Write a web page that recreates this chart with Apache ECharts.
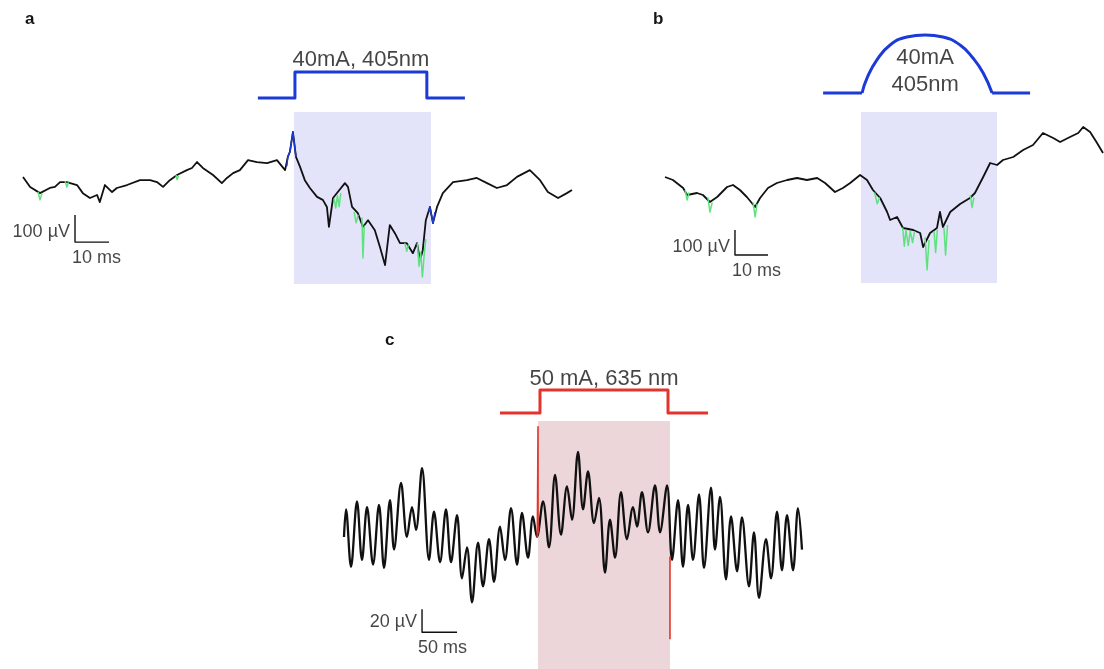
<!DOCTYPE html>
<html>
<head>
<meta charset="utf-8">
<script src="https://cdn.jsdelivr.net/npm/echarts/dist/echarts.min.js"></script>
<style>html,body{margin:0;padding:0;background:#fff}#chart{width:1104px;height:669px}</style>
</head>
<body>
<div id="chart"></div>
<script>
// ---------- Panel a : LFP trace (time in ms, voltage in µV) ----------
const aTime = [0,2.1,5,7.9,9.4,10.9,12.9,15.9,17.6,19.7,21.8,22.6,24.1,26.2,27.6,30.6,34.4,37.4,39.4,41.2,
  43.2,45.3,48.2,49.7,51.2,52.9,55.9,58.5,60,61.8,63.8,66.2,68.8,71.8,74.7,77.1,77.9,78.5,79.4,80.3,
  81.5,82.9,84.4,86.5,88.2,89.4,90,91.2,92.6,94.7,95.6,96.8,98.5,100,101.5,103.5,105,106.5,107.9,109.4,
  110.9,112.9,114.7,115.9,116.8,117.6,118.5,119.7,120.6,121.8,123.5,126.5,130.6,133.5,136.5,139.4,142.4,145.3,149.1,152.1,
  154.4,157.4,160,161.5];
const aVolt = [30,-7,-30,-11,-7,11,11,0,-30,-48,-37,-63,0,-26,-11,0,18,18,11,-7,
  18,37,55,63,85,63,37,7,26,44,55,92,85,81,92,55,104,122,196,104,
  67,18,-11,-44,-55,-81,-155,-48,-26,7,-7,-81,-104,-155,-130,-167,-229,-296,-148,-178,
  -215,-215,-252,-215,-278,-241,-130,-81,-141,-81,-30,11,18,26,7,-11,0,30,55,18,
  -26,-48,-30,-18];
// green (detected events) pieces, null separates pieces
const aGreenTime = [4.4,5,5.6,null,12.4,12.9,13.4,null,45,45.3,45.8,null,91.5,92,92.5,93,93.5,null,97.4,98,98.6,null,
  99.7,100,100.4,null,112.3,112.9,113.4,null,116,116.5,117,117.5,118,118.5];
const aGreenVolt = [-25,-55,-30,null,15,-7,10,null,37,20,35,null,-50,-85,-40,-80,-30,null,-100,-140,-110,null,
  -120,-270,-150,null,-215,-245,-220,null,-215,-300,-250,-340,-260,-200];
// blue (light artefact) pieces
const aBlueTime = [77.6,77.9,78.5,79.4,80.3,null,119.4,119.7,120.6,121.2];
const aBlueVolt = [70,104,122,196,104,null,-100,-81,-141,-100];
// stimulus a (mA)
const aStimTime = [69.1,80,80,118.8,118.8,130];
const aStimCurr = [0,0,40,40,0,0];

// ---------- Panel b ----------
const bTime = [0,2.4,5.5,6.7,9.7,11.5,13.6,15.8,18.8,20.6,22.7,24.8,27.3,28.8,31.2,33.9,37,40,43,46.1,
  48.5,51.5,53.9,56.1,59.1,61.2,63,65.2,67.3,68.2,70.3,72.1,75.2,77.3,78.2,80.3,82.4,83.3,84.2,86.4,
  89.4,92.4,93.9,96.4,98.5,100.6,102.4,105.5,108.5,111.5,114.5,117.6,119.7,122.7,125.2,126.7,128.8,130.9,132.7];
const bVolt = [12,0,-32,-60,-52,-60,-88,-68,-28,-20,-40,-68,-108,-72,-32,-12,0,8,0,8,
  -12,-48,-32,-12,20,0,-40,-72,-128,-160,-148,-192,-200,-212,-268,-212,-192,-128,-188,-128,
  -96,-72,-52,12,68,60,80,92,120,140,188,168,152,172,188,212,192,148,108];
const bGreenTime = [6.1,6.7,7.3,null,13,13.6,14.3,null,26.7,27.3,27.9,null,63.5,64.3,65,null,
  72,72.5,73,73.7,74.3,75,75.6,null,78.8,79.4,80,null,81.5,82,82.5,null,84.5,85,85.6,null,92.5,93,93.6];
const bGreenVolt = [-40,-80,-50,null,-70,-128,-90,null,-90,-148,-95,null,-50,-95,-70,null,
  -190,-265,-200,-262,-205,-250,-205,null,-230,-360,-240,null,-205,-290,-200,null,-190,-300,-180,null,-60,-110,-70];
const bStimBaseTime = [47.9,59.7,null,99.1,110.6];
const bStimBaseCurr = [0,0,null,0,0];
const bStimDomeTime = [59.7,61.2,64.2,68.2,73.3,78.8,84.2,89.4,93.3,96.4,99.1];
const bStimDomeCurr = [0,10.3,22.8,33.1,38.6,40,38.6,33.1,24.1,13.8,0];

// ---------- Panel c ----------
const cTime = [1.4,4.3,11.4,20,27.1,34.3,42.9,51.4,58.6,67.1,72.9,82.9,91.4,98.6,104.3,112.9,122.9,130,138.6,147.1,
  154.3,162.9,170,177.1,184.3,192.9,200,208.6,215.7,224.3,231.4,240,248.6,255.7,264.3,271.4,277.1,285.7,294.3,302.9,
  311.4,320,327.1,335.7,342.9,350,358.6,365.7,374.3,381.4,388.6,397.1,405.7,414.3,420,427.1,435.7,445.7,452.9,462.9,
  470,478.6,485.7,492.9,500,508.6,515.7,525.7,531.4,538.6,547.1,554.3,562.9,570,580,587.1,594.3,604.3,611.4,620,
  627.1,634.3,642.9,650,655.7];
const cVolt = [-15,9,-41,16,-35,11,-39,13,-42,17,-26,32,-15,11,-9,45,-35,7,-37,9,
  -37,4,-51,-24,-72,-20,-58,-17,-54,-6,-35,10,-39,6,-33,3,-15,16,-24,39,
  -13,29,0,59,9,42,-3,19,-46,0,-33,24,-17,11,-6,24,-11,30,-11,30,
  -35,17,-41,13,-35,22,-42,28,-26,20,-52,3,-45,2,-58,-11,-68,-17,-51,7,
  -44,4,-44,10,-26];
const cRedTime = [277.6,278.6,278.6,279.6,null,467.1,467.1];
const cRedVolt = [-15,81,-12,-5,null,-32,-104];
const cStimTime = [224.3,281.4,281.4,464.3,464.3,521.4];
const cStimCurr = [0,0,50,50,0,0];

// ---------- scale bars & labels ----------
const scaleA = {t:15.3, v:-211, dt:10, dv:100, vLabel:'100 µV', tLabel:'10 ms'};
const scaleB = {t:21.2, v:-300, dt:10, dv:100, vLabel:'100 µV', tLabel:'10 ms'};
const scaleC = {t:112.9, v:-98, dt:50, dv:20, vLabel:'20 µV', tLabel:'50 ms'};
const boxA = [79.7, 120], boxB = [59.4, 100.6], boxC = [278.6, 467.1];
const stimLabelA = '40mA, 405nm', stimLabelB = '40mA\n405nm', stimLabelC = '50 mA, 635 nm';

// ---------- helpers ----------
const zip = (t, v) => t.map((x, i) => [x, v[i]]);
function pieces(t, v) {
  const out = []; let cur = [];
  t.forEach((x, i) => { if (x === null) { if (cur.length) out.push(cur); cur = []; } else cur.push([x, v[i]]); });
  if (cur.length) out.push(cur);
  return out;
}
const FONT = 'Liberation Sans, Arial, Helvetica, sans-serif';
const BLUE = '#1b3ad8', RED = '#e2342c', GREEN = '#5fe27e', INK = '#111111', TXT = '#151515';

const grids = [
  {left:23, top:112, width:549, height:172},   // 0 a trace
  {left:23, top:72, width:549, height:26},     // 1 a stim
  {left:665, top:112, width:439, height:171},  // 2 b trace
  {left:665, top:35, width:439, height:58},    // 3 b stim
  {left:343, top:421, width:459, height:248},  // 4 c trace
  {left:343, top:390, width:459, height:23}    // 5 c stim
];
const xr = [[0,161.5],[0,161.5],[0,133],[0,133],[0,655.7],[0,655.7]];
const yr = [[-366,270],[0,40],[-412,272],[0,40],[-130,86],[0,50]];
const xAxis = xr.map((r, i) => ({type:'value', gridIndex:i, min:r[0], max:r[1], show:false}));
const yAxis = yr.map((r, i) => ({type:'value', gridIndex:i, min:r[0], max:r[1], show:false}));

const series = [];
function line(gi, data, color, width, z, extra) {
  series.push(Object.assign({type:'line', xAxisIndex:gi, yAxisIndex:gi, data, symbol:'none',
    lineStyle:{color, width, join:'round'}, z, clip:false, silent:true, animation:false}, extra || {}));
}
function box(gi, range, color) {
  series.push({type:'line', xAxisIndex:gi, yAxisIndex:gi, data:[[range[0], 0]], symbol:'none',
    lineStyle:{width:0}, z:1, silent:true,
    markArea:{silent:true, itemStyle:{color}, data:[[{xAxis:range[0]}, {xAxis:range[1]}]]}});
}
function scaleBar(gi, s, vOff, tOff) {
  line(gi, [[s.t, s.v + s.dv], [s.t, s.v], [s.t + s.dt, s.v]], INK, 1.4, 4);
  series.push({type:'scatter', xAxisIndex:gi, yAxisIndex:gi, symbolSize:0, silent:true, z:5,
    data:[
      {value:[s.t, s.v + s.dv * vOff], label:{show:true, formatter:s.vLabel, position:'left', distance:5,
        fontSize:18, color:TXT, fontFamily:FONT}},
      {value:[s.t, s.v], label:{show:true, formatter:s.tLabel, position:[tOff, 7], align:'left',
        verticalAlign:'top', fontSize:18, color:TXT, fontFamily:FONT}}
    ]});
}
function stimLabel(gi, t, v, text, lh, pos, dist) {
  series.push({type:'scatter', xAxisIndex:gi, yAxisIndex:gi, symbolSize:0, silent:true, z:5,
    data:[{value:[t, v], label:{show:true, formatter:text, position:pos, distance:dist, fontSize:22,
      lineHeight:lh, color:TXT, fontFamily:FONT}}]});
}

// panel a
box(0, boxA, '#e3e3fa');
line(0, zip(aTime, aVolt), INK, 1.8, 3);
pieces(aGreenTime, aGreenVolt).forEach(p => line(0, p, GREEN, 1.5, 4));
pieces(aBlueTime, aBlueVolt).forEach(p => line(0, p, BLUE, 1.5, 4));
scaleBar(0, scaleA, 0.37, -3);
line(1, zip(aStimTime, aStimCurr), BLUE, 3, 3);
stimLabel(1, (aStimTime[2] + aStimTime[3]) / 2, 40, stimLabelA, 26, 'top', -1);

// panel b
box(2, boxB, '#e3e3fa');
line(2, zip(bTime, bVolt), INK, 1.8, 3);
pieces(bGreenTime, bGreenVolt).forEach(p => line(2, p, GREEN, 1.5, 4));
scaleBar(2, scaleB, 0.32, -3);
pieces(bStimBaseTime, bStimBaseCurr).forEach(p => line(3, p, BLUE, 3, 3));
line(3, zip(bStimDomeTime, bStimDomeCurr), BLUE, 3, 3, {smooth:0.5});
stimLabel(3, 78.8, 14.8, stimLabelB, 27, 'inside', 0);

// panel c
box(4, boxC, '#edd6d9');
line(4, zip(cTime, cVolt), INK, 2.3, 3, {smooth:0.35});
pieces(cRedTime, cRedVolt).forEach(p => line(4, p, RED, 1.6, 4));
scaleBar(4, scaleC, 0.45, -4);
line(5, zip(cStimTime, cStimCurr), RED, 3, 3);
stimLabel(5, (cStimTime[2] + cStimTime[3]) / 2, 50, stimLabelC, 26, 'top', -2);

const letter = (x, y, s) => ({type:'text', left:x, top:y, silent:true,
  style:{text:s, fontSize:17, fontWeight:'bold', fontFamily:FONT, fill:TXT}});

const chart = echarts.init(document.getElementById('chart'), null, {renderer:'canvas'});
chart.setOption({
  animation:false,
  backgroundColor:'#fff',
  grid:grids,
  xAxis, yAxis, series,
  graphic:[letter(25, 11, 'a'), letter(653, 11, 'b'), letter(385, 332, 'c')]
});
</script>
</body>
</html>
